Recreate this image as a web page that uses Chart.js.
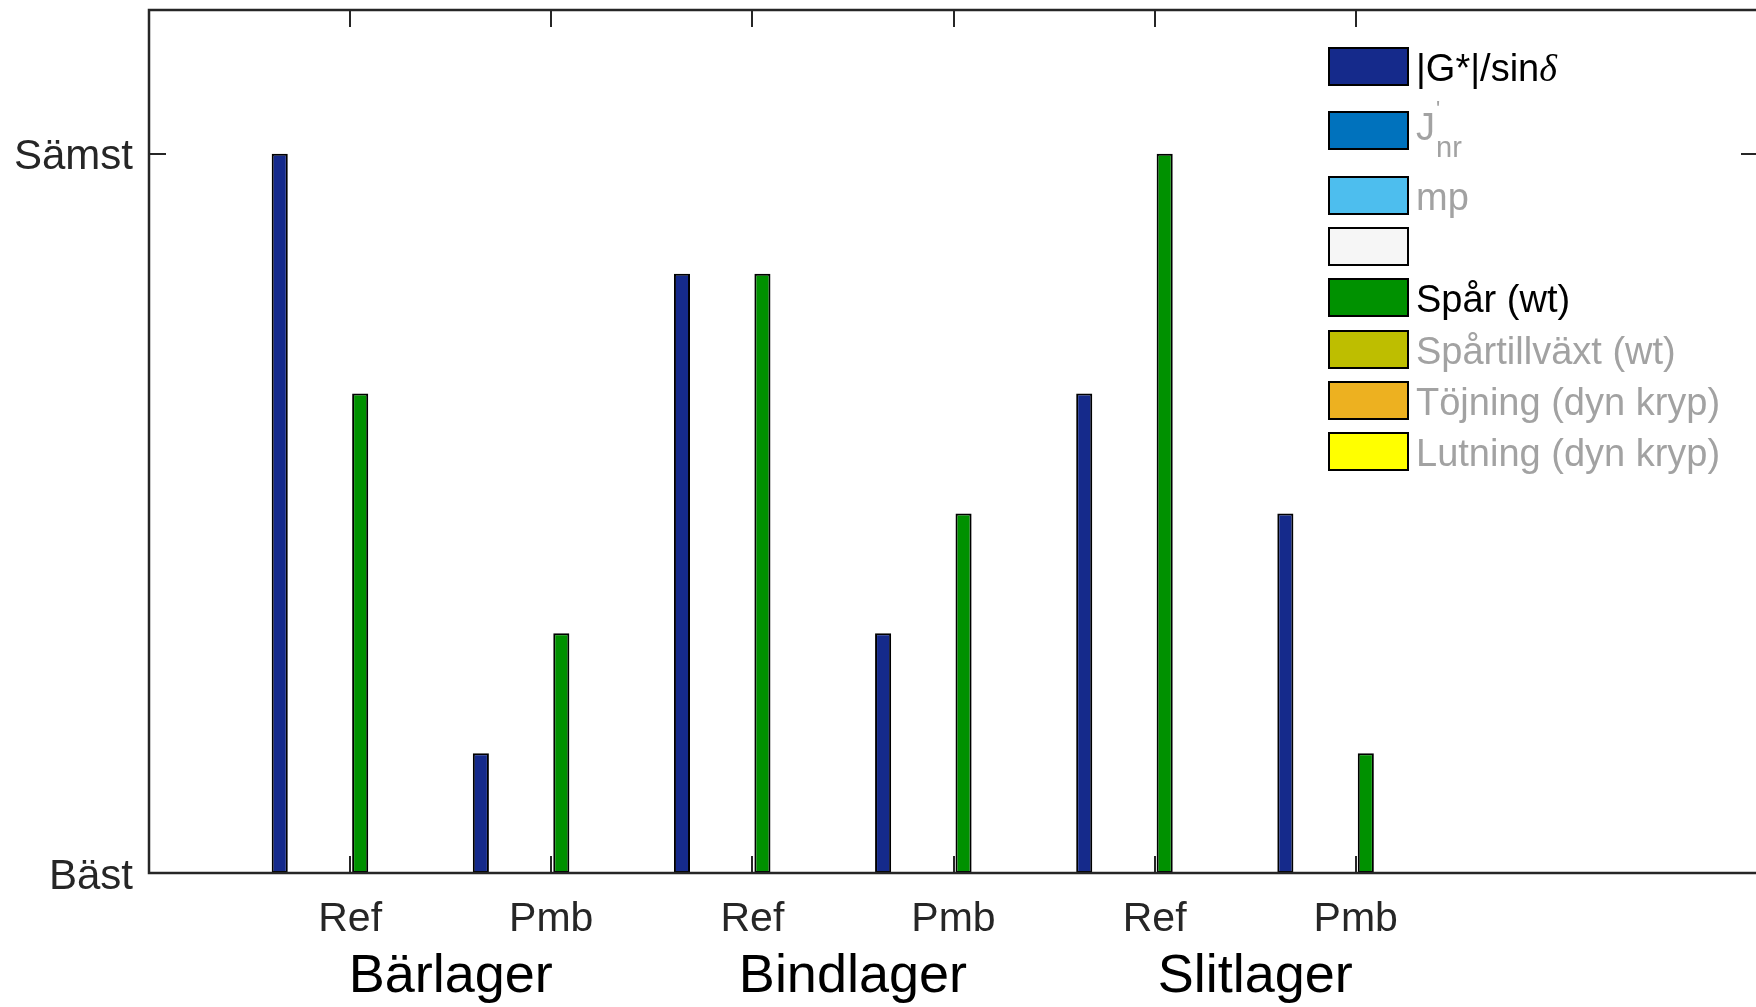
<!DOCTYPE html>
<html>
<head>
<meta charset="utf-8">
<script src="https://cdn.jsdelivr.net/npm/chart.js@4.4.1/dist/chart.umd.min.js"></script>
<style>
  html, body { margin: 0; padding: 0; background: #fff; overflow: hidden; }
  #wrap { position: relative; width: 1760px; height: 1007px; }
  #legend { position: absolute; left: 0; top: 0; }
  .lg-box { position: absolute; left: 1328px; width: 81px; height: 39px; box-sizing: border-box; border: 2.5px solid #000; }
  .lg-text { position: absolute; left: 1416px; font-family: 'Liberation Sans', Arial, sans-serif; font-size: 38px; line-height: 1; white-space: nowrap; transform: translateY(-50%); }
</style>
</head>
<body>
<div id="wrap">
  <canvas id="chart" width="1760" height="1007"></canvas>
  <div id="legend"></div>
</div>
<script>
// Bar positions along the x axis (one per mix, grouped by layer)
const categories = ['Ref', 'Pmb', 'Ref', 'Pmb', 'Ref', 'Pmb'];
const layers = ['Bärlager', 'Bindlager', 'Slitlager'];

// Ranking per test method (0 = Bäst ... 6 = Sämst); empty = not evaluated
const gValues          = [6, 1, 5, 2, 4, 3];
const jnrValues        = [];
const mpValues         = [];
const blankValues      = [];
const sparValues       = [4, 2, 5, 3, 6, 1];
const sparGrowthValues = [];
const strainValues     = [];
const slopeValues      = [];

const seriesLabels = ['|G*|/sinδ', "J'nr", 'mp', '', 'Spår (wt)', 'Spårtillväxt (wt)', 'Töjning (dyn kryp)', 'Lutning (dyn kryp)'];
const seriesColors = ['#152a8b', '#0072bd', '#4dbeee', '#f6f6f6', '#009100', '#bebe00', '#edb120', '#ffff00'];

const yTickValues = [0, 6];
const yTickLabels = ['Bäst', 'Sämst'];

const seriesValues = [gValues, jnrValues, mpValues, blankValues, sparValues, sparGrowthValues, strainValues, slopeValues];

const FONT = "'Liberation Sans', Arial, Helvetica, sans-serif";
const AXIS_COLOR = '#262626';

const datasets = seriesLabels.map((label, k) => ({
  label,
  data: seriesValues[k].map((v, i) => ({ x: i + 1, y: v })),
  backgroundColor: seriesColors[k],
  borderColor: '#000',
  borderWidth: 2,
  borderSkipped: false,
  categoryPercentage: 0.8,
  barPercentage: 0.8
}));

// Box around the plot area plus inward-pointing tick marks
const axesBox = {
  id: 'axesBox',
  afterDatasetsDraw(chart) {
    const { ctx, chartArea: a, scales } = chart;
    const len = 17;
    ctx.save();
    ctx.strokeStyle = AXIS_COLOR;
    ctx.lineWidth = 2;
    ctx.beginPath();
    scales.x.ticks.forEach(t => {
      const px = Math.round(scales.x.getPixelForValue(t.value));
      ctx.moveTo(px, a.bottom); ctx.lineTo(px, a.bottom - len);
      ctx.moveTo(px, a.top); ctx.lineTo(px, a.top + len);
    });
    scales.y.ticks.forEach(t => {
      const py = Math.round(scales.y.getPixelForValue(t.value));
      ctx.moveTo(a.left, py); ctx.lineTo(a.left + len, py);
      ctx.moveTo(a.right, py); ctx.lineTo(a.right - len, py);
    });
    ctx.stroke();
    ctx.lineWidth = 2.5;
    ctx.strokeRect(a.left, a.top, a.right - a.left, a.bottom - a.top);
    ctx.restore();
  }
};

new Chart(document.getElementById('chart'), {
  type: 'bar',
  data: { datasets },
  plugins: [axesBox],
  options: {
    responsive: false,
    animation: false,
    layout: { padding: { top: 10, right: 2, left: 0, bottom: 0 } },
    plugins: { legend: { display: false }, tooltip: { enabled: false } },
    scales: {
      x: {
        type: 'linear', position: 'bottom', weight: 0, offset: false,
        min: 0, max: 8,
        grid: { display: false, drawTicks: false },
        border: { display: false },
        afterBuildTicks: s => { s.ticks = categories.map((c, i) => ({ value: i + 1 })); },
        afterFit: s => { s.height = 60; s.paddingLeft = 0; s.paddingRight = 0; },
        ticks: {
          autoSkip: false, maxRotation: 0, padding: 22,
          color: AXIS_COLOR, font: { family: FONT, size: 41 },
          callback: v => categories[v - 1] ?? ''
        }
      },
      xLayer: {
        type: 'linear', axis: 'x', position: 'bottom', weight: 1, offset: false,
        min: 0, max: 8,
        grid: { display: false, drawTicks: false },
        border: { display: false },
        afterBuildTicks: s => { s.ticks = layers.map((l, i) => ({ value: 2 * i + 1.5 })); },
        afterFit: s => { s.height = 74; s.paddingLeft = 0; s.paddingRight = 0; },
        ticks: {
          autoSkip: false, maxRotation: 0, padding: 12,
          color: '#000', font: { family: FONT, size: 54 },
          callback: v => layers[(v - 1.5) / 2] ?? ''
        }
      },
      y: {
        type: 'linear', position: 'left',
        min: 0, max: 7.2,
        grid: { display: false, drawTicks: false },
        border: { display: false },
        afterBuildTicks: s => { s.ticks = yTickValues.map(v => ({ value: v })); },
        afterFit: s => { s.width = 149; s.paddingTop = 0; s.paddingBottom = 0; },
        ticks: {
          padding: 16, labelOffset: 4,
          color: AXIS_COLOR, font: { family: FONT, size: 42 },
          callback: v => yTickLabels[yTickValues.indexOf(v)] ?? ''
        }
      }
    }
  }
});

// Legend: one swatch per test method, inactive methods in grey
const legendRowCenters = [66, 130, 195, 246, 297, 349, 400, 451];
function legendMarkup(label) {
  if (label === "J'nr") {
    return "<span style=\"position:relative;display:inline-block;top:-5px\">J" +
      "<span style=\"position:absolute;left:20px;top:-10px;font-size:22px\">'</span>" +
      "<span style=\"position:absolute;left:20px;top:25px;font-size:29px\">nr</span></span>";
  }
  return label.replace('δ', "<span style=\"font-family:'Liberation Serif',serif;font-style:italic\">δ</span>");
}
const legendEl = document.getElementById('legend');
seriesLabels.forEach((label, k) => {
  const c = legendRowCenters[k];
  const box = document.createElement('div');
  box.className = 'lg-box';
  box.style.top = (c - 19.5) + 'px';
  box.style.background = seriesColors[k];
  legendEl.appendChild(box);
  const txt = document.createElement('div');
  txt.className = 'lg-text';
  txt.style.top = (c + 2) + 'px';
  txt.style.color = seriesValues[k].length ? '#000' : '#a2a2a2';
  txt.innerHTML = legendMarkup(label);
  legendEl.appendChild(txt);
});
</script>
</body>
</html>
